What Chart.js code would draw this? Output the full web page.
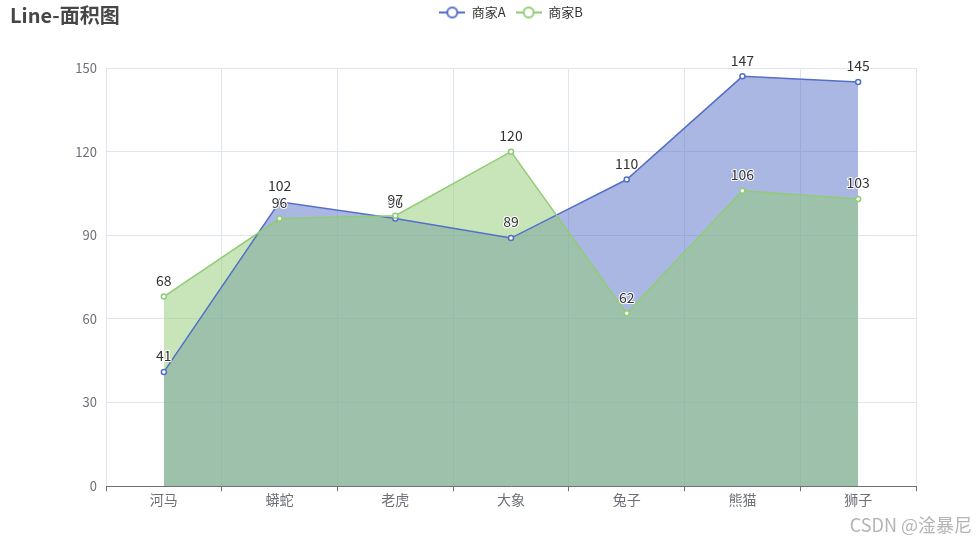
<!DOCTYPE html>
<html>
<head>
<meta charset="utf-8">
<script src="https://cdn.jsdelivr.net/npm/chart.js@4"></script>
<style>
  html, body { margin: 0; padding: 0; background: #fff; }
</style>
</head>
<body>
<canvas id="myChart" width="976" height="544"></canvas>
<script>
const categories = ["河马", "蟒蛇", "老虎", "大象", "兔子", "熊猫", "狮子"];
const sellerA = [41, 102, 96, 89, 110, 147, 145];
const sellerB = [68, 96, 97, 120, 62, 106, 103];
const yTicks = [0, 30, 60, 90, 120, 150];

const FONT = "'Noto Sans CJK SC', 'Noto Sans', sans-serif";
const blue = "#5470c6";
const green = "#91cc75";

// legend icon: line with hollow circle, like echarts
function legendIcon(color) {
  const c = document.createElement("canvas");
  c.width = 26;
  c.height = 14;
  const ctx = c.getContext("2d");
  ctx.strokeStyle = color;
  ctx.lineWidth = 2;
  ctx.beginPath();
  ctx.moveTo(0, 7);
  ctx.lineTo(26, 7);
  ctx.stroke();
  ctx.beginPath();
  ctx.arc(13, 7, 5, 0, Math.PI * 2);
  ctx.fillStyle = "#fff";
  ctx.fill();
  ctx.stroke();
  return c;
}
const icons = [legendIcon(blue), legendIcon(green)];

const extras = {
  id: "extras",
  beforeInit(chart) {
    // make room under the legend, like the echarts grid top
    const lg = chart.legend;
    if (lg) {
      const fit = lg.fit;
      lg.fit = function () {
        fit.call(this);
        this.height += 39;
      };
    }
  },
  afterDatasetsDraw(chart) {
    const ctx = chart.ctx;
    ctx.save();
    ctx.font = "14px " + FONT;
    ctx.textAlign = "center";
    ctx.textBaseline = "bottom";
    ctx.lineJoin = "round";
    chart.data.datasets.forEach((ds, i) => {
      const meta = chart.getDatasetMeta(i);
      meta.data.forEach((pt, j) => {
        const txt = String(ds.data[j]);
        ctx.strokeStyle = "#fff";
        ctx.lineWidth = 2;
        ctx.strokeText(txt, pt.x, pt.y - 9);
        ctx.fillStyle = "#333";
        ctx.fillText(txt, pt.x, pt.y - 9);
      });
    });
    ctx.restore();
  },
  afterDraw(chart) {
    const ctx = chart.ctx;
    ctx.save();
    ctx.font = "bold 20px " + FONT;
    ctx.fillStyle = "#464646";
    ctx.textBaseline = "middle";
    ctx.textAlign = "left";
    ctx.fillText("Line-面积图", 10, 15);
    ctx.font = "18px " + FONT;
    ctx.fillStyle = "#b4b4b4";
    ctx.textAlign = "right";
    ctx.fillText("CSDN @淦暴尼", 972, 525);
    ctx.restore();
  }
};

const data = {
  labels: categories,
  datasets: [
    {
      label: "商家A",
      data: sellerA,
      borderColor: blue,
      backgroundColor: "rgba(84, 112, 198, 0.5)",
      borderWidth: 1.5,
      fill: "origin",
      tension: 0,
      pointRadius: 2.5,
      pointBorderWidth: 1.5,
      pointBackgroundColor: "#fff",
      pointBorderColor: blue,
      order: 1,
    },
    {
      label: "商家B",
      data: sellerB,
      borderColor: green,
      backgroundColor: "rgba(145, 204, 117, 0.5)",
      borderWidth: 1.5,
      fill: "origin",
      tension: 0,
      pointRadius: 2.5,
      pointBorderWidth: 1.5,
      pointBackgroundColor: "#fff",
      pointBorderColor: green,
      order: 0,
    },
  ],
};

const config = {
  type: "line",
  data: data,
  plugins: [extras],
  options: {
    responsive: false,
    animation: false,
    events: [],
    layout: {
      padding: { left: 0, right: 60, top: -4, bottom: 36 },
    },
    scales: {
      x: {
        offset: true,
        grid: {
          offset: true,
          color: "#e0e6f1",
          tickColor: "#6e7079",
          tickLength: 5,
        },
        border: { color: "#6e7079", width: 1 },
        ticks: {
          color: "#6e7079",
          font: { size: 14, family: FONT },
          padding: 0,
        },
      },
      y: {
        min: 0,
        max: 150,
        afterBuildTicks(scale) {
          scale.ticks = yTicks.map((v) => ({ value: v }));
        },
        afterFit(scale) {
          scale.width = 106;
        },
        grid: { color: "#e0e6f1", drawTicks: false },
        border: { display: false },
        ticks: {
          color: "#6e7079",
          font: { size: 13, family: FONT },
          padding: 9,
        },
      },
    },
    plugins: {
      title: { display: false },
      tooltip: { enabled: false },
      filler: { drawTime: "beforeDatasetsDraw" },
      legend: {
        display: true,
        position: "top",
        align: "center",
        fullSize: false,
        labels: {
          usePointStyle: true,
          pointStyleWidth: 26,
          boxHeight: 12,
          color: "#333",
          font: { size: 13, family: FONT },
          padding: 10,
          sort: (a, b) => a.datasetIndex - b.datasetIndex,
          generateLabels(chart) {
            const items = Chart.defaults.plugins.legend.labels.generateLabels(chart);
            items.forEach((it) => {
              it.pointStyle = icons[it.datasetIndex];
            });
            return items;
          },
        },
      },
    },
  },
};

const myChart = new Chart(document.getElementById("myChart"), config);
</script>
</body>
</html>
